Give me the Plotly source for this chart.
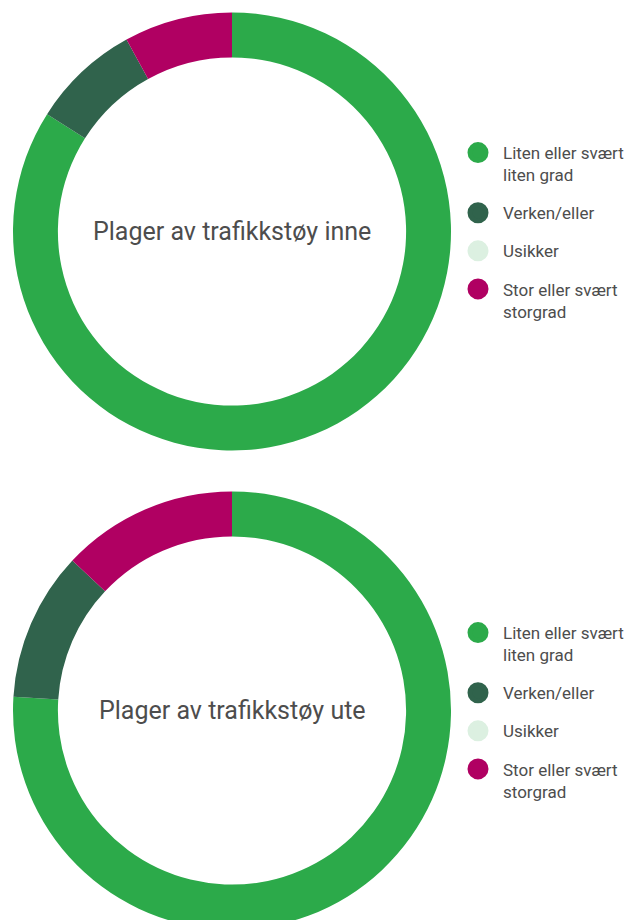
import plotly.graph_objects as go

categories = ["Liten eller svært<br>liten grad", "Verken/eller", "Usikker", "Stor eller svært<br>storgrad"]
colors = ["#2caa4a", "#30634c", "#dcf0e1", "#b00062"]
inne_values = [84, 8, 0, 8]
ute_values = [76, 11, 0, 13]
titles = ["Plager av trafikkstøy inne", "Plager av trafikkstøy ute"]

W, H = 630, 940
R = 219
centers = [(232, 231.5), (232, 710.5)]

fig = go.Figure()
for i, vals in enumerate([inne_values, ute_values]):
    cx, cy = centers[i]
    fig.add_trace(go.Pie(
        labels=categories, values=vals, sort=False, direction="clockwise", rotation=0,
        hole=0.795, marker=dict(colors=colors, line=dict(width=0)),
        textinfo="none", hoverinfo="label+value", showlegend=False,
        domain=dict(x=[(cx - R) / W, (cx + R) / W], y=[1 - (cy + R) / H, 1 - (cy - R) / H]),
    ))
    fig.add_annotation(text=titles[i], x=cx / W, y=1 - cy / H, xref="paper", yref="paper",
                       xanchor="center", yanchor="middle",
                       showarrow=False, font=dict(size=25, color="#4d4d4d", family="Roboto"))
    for c, col in zip(categories, colors):
        fig.add_trace(go.Scatter(
            x=[None], y=[None], mode="markers", name=c, legendgroup=f"{i}-{c}",
            marker=dict(size=16, color=col, line=dict(width=5, color=col)),
            legend="legend" if i == 0 else "legend2", hoverinfo="skip",
        ))

legend_common = dict(
    xanchor="left", yanchor="top", font=dict(size=17, color="#4d4d4d", family="Roboto"),
    tracegroupgap=13, valign="top", bgcolor="rgba(0,0,0,0)", itemsizing="trace",
    itemwidth=40,
)
fig.update_layout(
    width=W, height=H, margin=dict(l=0, r=0, t=0, b=0),
    paper_bgcolor="white", plot_bgcolor="white",
    font=dict(family="Roboto"),
    xaxis=dict(visible=False), yaxis=dict(visible=False),
    legend=dict(x=453 / W, y=1 - 135 / H, **legend_common),
    legend2=dict(x=453 / W, y=1 - 615 / H, **legend_common),
)
fig.write_html(
    "out.html",
    config={"displayModeBar": False},
    post_script="document.documentElement.style.overflow='hidden';document.body.style.overflow='hidden';document.body.style.margin='0';",
)
